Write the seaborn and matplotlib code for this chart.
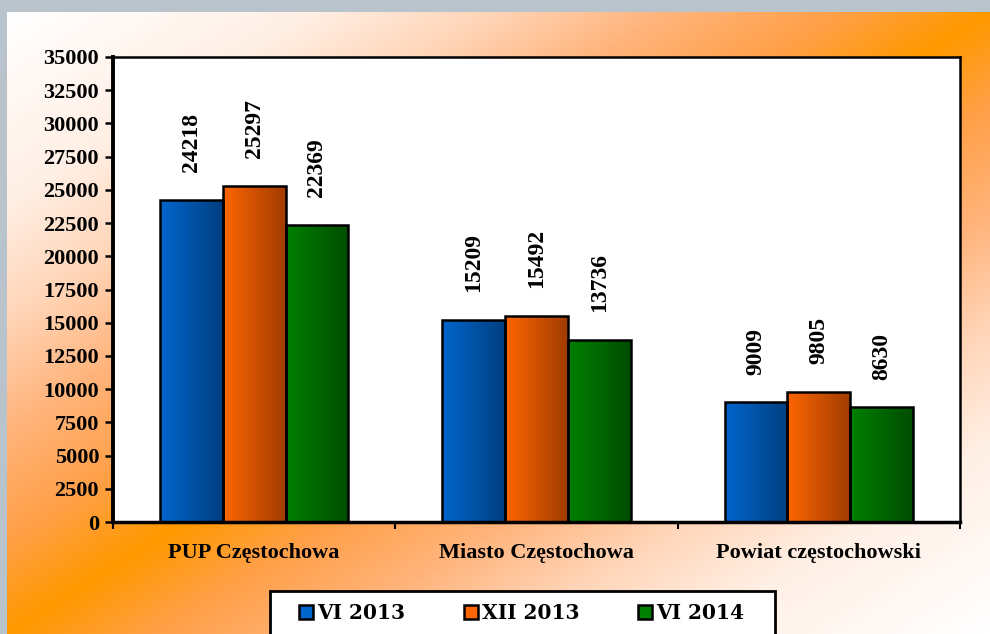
import numpy as np
import pandas as pd
import matplotlib
matplotlib.use('Agg')
import matplotlib.pyplot as plt
import seaborn as sns
from matplotlib.colors import LinearSegmentedColormap
from matplotlib.patches import Patch, Rectangle

# ==============================================================================
# DANE
# ==============================================================================
kategorie = ['PUP Częstochowa', 'Miasto Częstochowa', 'Powiat częstochowski']
serie = ['VI 2013', 'XII 2013', 'VI 2014']
vi_2013 = [24218, 15209, 9009]
xii_2013 = [25297, 15492, 9805]
vi_2014 = [22369, 13736, 8630]
y_ticks = list(range(0, 35001, 2500))

kolory_jasne = ['#0066cc', '#ff6600', '#008000']
kolory_ciemne = ['#003f80', '#a03c00', '#004d00']

df = pd.DataFrame({
    'kategoria': kategorie * 3,
    'seria': [s for s in serie for _ in kategorie],
    'wartosc': vi_2013 + xii_2013 + vi_2014,
})

W, H = 990, 634
fig = plt.figure(figsize=(W / 100, H / 100), dpi=100)
fig.patch.set_facecolor('#b9c3cc')

# tło z gradientem (biały -> pomarańczowy -> biały po przekątnej)
bg = fig.add_axes([7 / W, 0, (W - 7) / W, (H - 12) / H])
bw, bh = W - 7, H - 12
xs = np.linspace(0, 1, bw)
ys = np.linspace(0, 1, bh)
t = xs[None, :] + ys[:, None]
inten = np.clip(1 - np.abs(t - 1), 0, 1)
cmap_tlo = LinearSegmentedColormap.from_list('tlo', [
    (0.0, '#ffffff'), (0.3, '#fff0e6'), (0.5, '#ffd4b6'), (0.67, '#ffb47c'),
    (0.85, '#ffa048'), (1.0, '#ff9900')])
bg.imshow(inten, aspect='auto', extent=[0, 1, 0, 1], cmap=cmap_tlo, vmin=0, vmax=1)
bg.axis('off')

ax = fig.add_axes([113 / W, 112 / H, 847 / W, 465 / H])
ax.set_facecolor('white')

sns.barplot(data=df, x='kategoria', y='wartosc', hue='seria', order=kategorie,
            hue_order=serie, width=0.667, ax=ax, legend=False, saturation=1,
            edgecolor='black', linewidth=1.8)

grad = np.linspace(0, 1, 256).reshape(1, -1)
for i, cont in enumerate(ax.containers):
    cmap = LinearSegmentedColormap.from_list(f'c{i}', [kolory_jasne[i], kolory_ciemne[i]])
    for bar in cont:
        x0, w, h = bar.get_x(), bar.get_width(), bar.get_height()
        bar.set_facecolor('none')
        bar.set_zorder(3)
        im = ax.imshow(grad, extent=[x0, x0 + w, 0, h], aspect='auto', cmap=cmap, zorder=2)
        im.set_clip_path(bar)
        ax.annotate(f'{int(h)}', (x0 + w / 2, h), xytext=(0, 20), textcoords='offset points',
                    rotation=90, ha='center', va='bottom', fontsize=17, fontweight='bold',
                    family='Liberation Serif')

ax.set_xlim(-0.5, 2.5)
ax.set_ylim(0, 35000)
ax.set_yticks(y_ticks)
ax.set_yticklabels([str(v) for v in y_ticks], fontsize=16, fontweight='bold', family='Liberation Serif')
ax.set_xticks(range(3))
ax.set_xticklabels(kategorie, fontsize=16, fontweight='bold', family='Liberation Serif')
ax.set_xticks([-0.5, 0.5, 1.5, 2.5], minor=True)
ax.tick_params(axis='x', which='major', length=0, pad=15)
ax.tick_params(axis='x', which='minor', length=5, width=1.5, direction='out')
ax.tick_params(axis='y', length=6, width=1.8, direction='out', pad=4)
ax.set_xlabel('')
ax.set_ylabel('')
for side, lw in [('left', 2.8), ('bottom', 2.5), ('top', 1.8), ('right', 1.8)]:
    ax.spines[side].set_visible(True)
    ax.spines[side].set_linewidth(lw)
    ax.spines[side].set_color('black')

# legenda
fig.patches.append(Rectangle((270 / W, -0.01), 505 / W, (H - 591) / H + 0.01,
                             transform=fig.transFigure, facecolor='white',
                             edgecolor='black', linewidth=2, zorder=5))
uchwyty = [Patch(facecolor=k, edgecolor='black', linewidth=1.8) for k in kolory_jasne]
leg = fig.legend(uchwyty, serie, loc='center left', bbox_to_anchor=(299 / W, 1 - 613 / H),
                 ncol=3, frameon=False, handlelength=0.7, handleheight=0.7,
                 handletextpad=0.2, columnspacing=2.9, borderpad=0, borderaxespad=0,
                 prop={'family': 'DejaVu Serif', 'weight': 'bold', 'size': 14.5})
leg.set_zorder(6)

plt.savefig('out.png', dpi=100, facecolor=fig.get_facecolor())
